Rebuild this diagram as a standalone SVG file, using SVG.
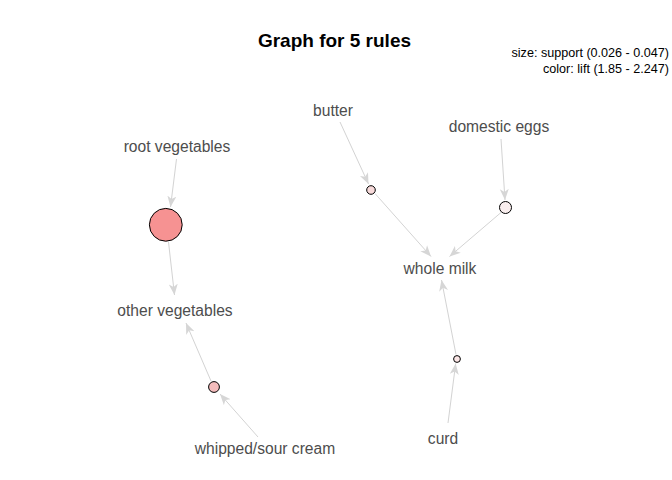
<svg xmlns="http://www.w3.org/2000/svg" width="672" height="480" viewBox="0 0 672 480">
<style>
.lbl{font-family:"Liberation Sans",Arial,sans-serif;font-size:15.6px;fill:#4d4d4d;text-anchor:middle}
.leg{font-family:"Liberation Sans",Arial,sans-serif;font-size:12.6px;fill:#000;text-anchor:end}
.title{font-family:"Liberation Sans",Arial,sans-serif;font-size:19px;font-weight:bold;fill:#000;text-anchor:middle}
.e{stroke:#d3d3d3;stroke-width:1;fill:none;marker-end:url(#ah)}
.n{stroke:#000;stroke-width:1}
</style>
<defs>
<marker id="ah" markerUnits="userSpaceOnUse" markerWidth="12" markerHeight="10" viewBox="0 0 12 10" refX="11" refY="5" orient="auto">
<path d="M0,0.5 L11,5 L0,9.5 L3,5 Z" fill="#d6d6d6"/>
</marker>
</defs>
<rect width="672" height="480" fill="#fff"/>
<text class="title" x="334.5" y="47">Graph for 5 rules</text>
<text class="leg" x="669" y="57">size: support (0.026 - 0.047)</text>
<text class="leg" x="669" y="73">color: lift (1.85 - 2.247)</text>
<g id="edges">
<line class="e" x1="176.5" y1="159" x2="170.5" y2="207"/>
<line class="e" x1="168.5" y1="242" x2="174.5" y2="295"/>
<line class="e" x1="258" y1="437" x2="220" y2="394"/>
<line class="e" x1="211" y1="381" x2="186" y2="323"/>
<line class="e" x1="340" y1="122" x2="368.5" y2="184"/>
<line class="e" x1="375" y1="193.5" x2="431" y2="256.5"/>
<line class="e" x1="501" y1="139" x2="505" y2="200"/>
<line class="e" x1="501" y1="212.5" x2="449.5" y2="256.5"/>
<line class="e" x1="448" y1="423" x2="455.7" y2="363.5"/>
<line class="e" x1="456" y1="354.5" x2="441.5" y2="280"/>
</g>
<g id="n_root_vegetables"><text class="lbl" x="177" y="151.5">root vegetables</text></g>
<g id="n_other_vegetables"><text class="lbl" x="175" y="315.5">other vegetables</text></g>
<g id="n_whipped_sour_cream"><text class="lbl" x="265" y="453.5">whipped/sour cream</text></g>
<g id="n_butter"><text class="lbl" x="333" y="115.5">butter</text></g>
<g id="n_domestic_eggs"><text class="lbl" x="499" y="131.5">domestic eggs</text></g>
<g id="n_whole_milk"><text class="lbl" x="440" y="273.5">whole milk</text></g>
<g id="n_curd"><text class="lbl" x="443" y="443.5">curd</text></g>
<g id="rule1"><circle class="n" cx="165.8" cy="224.8" r="16.4" fill="#f69292"/></g>
<g id="rule2"><circle class="n" cx="214" cy="387" r="5.4" fill="#f4bcbc"/></g>
<g id="rule3"><circle class="n" cx="371" cy="190" r="4.3" fill="#f7dada"/></g>
<g id="rule4"><circle class="n" cx="505.5" cy="207.5" r="6" fill="#f9eeee"/></g>
<g id="rule5"><circle class="n" cx="457" cy="359" r="3.4" fill="#fbe6e6"/></g>
</svg>
